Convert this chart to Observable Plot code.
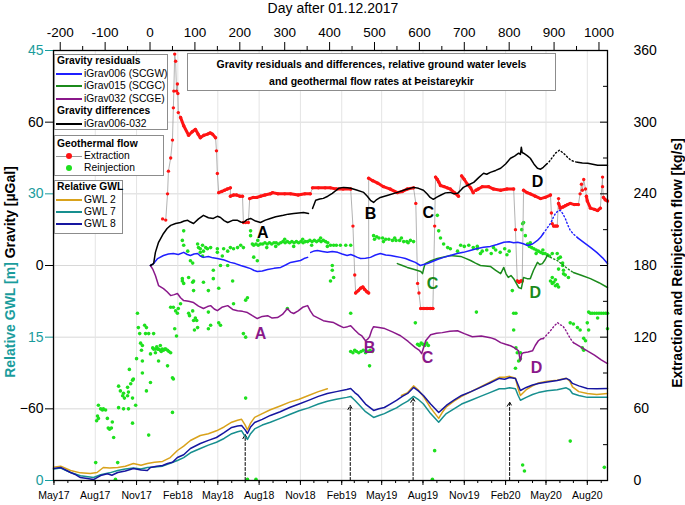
<!DOCTYPE html>
<html><head><meta charset="utf-8">
<script src="https://cdn.jsdelivr.net/npm/d3@7"></script>
<script src="https://cdn.jsdelivr.net/npm/@observablehq/plot@0.6"></script>
<style>
body{margin:0;background:#fff;font-family:"Liberation Sans",Arial,sans-serif;}
#wrap{position:relative;width:685px;height:505px;overflow:hidden;background:#fff;}
#wrap svg{position:absolute;left:0;top:0;}
</style></head>
<body><div id="wrap"></div>
<script>
// ---------- axes / ticks ----------
const DAY0 = Date.UTC(2017, 11, 1);
const xDomain = [-215, 1019];
const gravDomain = [-90, 90], gwlDomain = [0, 45], flowDomain = [0, 360];
const dayTicks = d3.range(-200, 1001, 100);
const dayMinorTicks = d3.range(-150, 1001, 100);
const gravTicks = [-60, 0, 60];
const gwlTicks = [0, 15, 30, 45];
const flowTicks = d3.range(0, 361, 60);
const flowMinorTicks = d3.range(30, 361, 60);
const toDay = t => Math.round((+t - DAY0) / 864e5);
const monthTicks = d3.utcMonth.range(new Date(Date.UTC(2017,4,1)), new Date(Date.UTC(2020,8,30))).map(toDay).filter(d => d <= xDomain[1]);
const quarterTicks = monthTicks.filter((d, i) => i % 3 === 0);
const monthFmt = d => d3.utcFormat("%b%y")(new Date(DAY0 + d * 864e5));

// ---------- gravity (µGal) [day, value, segment]; segment 0 = dotted ----------
const diff006_032 = [
[1,0,1],[8,0.8,1],[12,5.5,1],[19,9.7,1],[30,13.4,1],[38,15.5,1],[46,16.8,1],[57,17.6,1],[68,18.0,1],[76,18.6,1],[84,18.9,1],[90,18.2,1],[97,17.6,1],[108,19.5,1],[119,21.0,1],[130,20.0,1],[141,19.7,1],[150,20.6,1],[157,20.1,1],[165,18.8,1],[173,18.0,1],[184,18.9,1],[195,18.9,1],[202,18.2,1],[208,18.0,1],[216,19.2,1],[224,19.7,1],[235,18.6,1],[246,18.0,1],[257,19.0,1],[268,19.7,1],[280,20.4,1],[297,21.0,1],[308,21.5,1],[320,21.8,1],[331,22.0,1],[342,22.2,1],[353,21.8,1],
[362,23.9,2],[369,27.3,2],[378,27.8,2],[386,28.1,2],[396,29.0,2],[406,30.2,2],[413,31.2,2],[420,32.3,2],[431,32.7,2],[440,32.5,2],[447,32.3,2],[460,31.6,2],[476,30.6,2],[484,29.0,2],[491,27.3,2],[498,26.4,2],[505,27.6,2],[513,28.5,2],[530,29.4,2],[551,30.6,2],[570,31.8,2],[587,32.7,2],[598,32.3,2],[609,31.5,2],[617,30.0,2],[624,28.5,2],[631,27.7,2],[639,28.6,2],[647,29.4,2],[658,30.4,2],[669,30.6,2],[677,30.0,2],[685,30.2,2],[692,31.5,2],[698,32.7,2],[710,33.8,2],[721,34.8,2],[732,36.8,2],[743,38.6,2],[750,38.2,2],[758,39.0,2],[770,39.8,2],[781,40.7,2],[792,42.5,2],[803,44.9,2],[812,45.8,2],[821,47.0,2],[825,46.5,2],[827,49.5,2],[829,47.3,2],[832,47.0,2],[840,46.0,2],[847,44.9,2],[855,42.5,2],[863,40.7,2],[870,40.3,2],[876,41.1,2],[883,42.4,2],
[883,42.4,0],[888,43.2,0],[896,45.2,0],[903,47.0,0],[912,48.3,0],[921,47.0,0],[929,45.5,0],[937,44.1,0],[945,43.5,0],[952,43.2,0],
[952,43.2,3],[963,42.9,3],[975,42.8,3],[986,42.4,3],[997,42.0,3],[1008,42.0,3],[1019,42.0,3]];

const iGrav006 = [
[1,0,1],[8,0.8,1],[17,2.9,1],[30,4.2,1],[41,4.8,1],[52,5.0,1],[63,4.6,1],[75,5.5,1],[83,4.6,1],[90,4.2,1],[98,4.8,1],[106,5.0,1],[112,4.0,1],[119,3.4,1],[130,3.8,1],[140,3.2,1],[150,2.9,1],[165,2.3,1],[179,1.3,1],[190,0.8,1],[202,0,1],[213,-0.6,1],[224,-1.3,1],[232,-2.1,1],[239,-2.5,1],[250,-2.3,1],[262,-1.7,1],[276,-1.2,1],[291,-0.8,1],[302,0.2,1],[313,1.3,1],[324,1.7,1],[335,2.1,1],[343,2.9,1],[351,3.4,1],
[358,5.5,2],[366,6.1,2],[373,6.3,2],[384,5.9,2],[395,5.5,2],[406,5.9,2],[418,5.5,2],[428,4.8,2],[439,4.2,2],[447,4.6,2],[453,4.2,2],[462,3.4,2],[469,2.9,2],[480,3.0,2],[491,3.4,2],[502,4.4,2],[513,5.0,2],[525,4.4,2],[536,4.2,2],[547,3.8,2],[558,3.4,2],[569,2.9,2],[580,2.1,2],[591,1.3,2],[602,0,2],[610,0.4,2],[618,0.8,2],[629,1.7,2],[640,2.5,2],[654,3.4,2],[669,4.2,2],[684,5.0,2],[698,5.5,2],[713,6.3,2],[729,7.1,2],[743,7.6,2],[758,8.0,2],[773,8.8,2],[788,9.7,2],[800,9.9,2],[810,9.5,2],[819,9.7,2],[830,9.2,2],[841,8.4,2],[852,9.0,2],[863,10.5,2],[870,11.8,2],[876,13.4,2],
[876,13.4,0],[884,15.5,0],[892,17.6,0],[898,20.0,0],[903,21.8,0],[909,22.9,0],[914,23.1,0],[919,21.8,0],[925,19.7,0],[930,17.2,0],[936,14.7,0],[944,13.0,0],[952,11.7,0],
[952,11.7,3],[966,9.7,3],[981,7.6,3],[995,5.5,3],[1008,3.2,3],[1019,0.8,3]];

const iGrav015 = [
[551,0.8,1],[562,0,1],[573,-0.8,1],[585,-1.5,1],[596,-2.1,1],[603,-2.5,1],[607,-3.4,1],[610,-1.0,1],[613,0.8,1],[626,2.0,1],[640,2.9,1],[655,3.6,1],[669,4.2,1],[680,4.0,1],[692,3.8,1],[703,3.0,1],[714,2.1,1],[725,1.0,1],[736,0,1],[747,-0.2,1],[758,-0.4,1],[770,-2.0,1],[781,-3.4,1],[788,-0.8,1],[793,-3.5,1],[798,-5.0,1],[804,-4.2,1],[810,-5.5,1],[816,-7.5,1],[821,-9.2,1],[827,-9.7,1],[832,-5.0,1],[840,-5.5,1],[847,-5.5,1],[854,-2.1,1],[863,1.3,1],[868,0.4,1],[874,0.8,1],[880,2.4,1],[885,4.2,1],
[885,4.2,0],[896,3.0,0],[907,2.1,0],[921,0,0],[936,-2.1,0],[943,-2.9,0],
[943,-2.9,3],[962,-4.2,3],[981,-5.5,3],[1000,-7.2,3],[1019,-9.2,3]];

const iGrav032 = [
[1,0,1],[6,-1.5,1],[12,-4.2,1],[19,-8.4,1],[30,-9.7,1],[38,-11.0,1],[46,-12.6,1],[54,-12.2,1],[61,-11.7,1],[68,-13.5,1],[75,-14.7,1],[86,-15.0,1],[97,-15.5,1],[108,-17.0,1],[119,-18.0,1],[128,-17.2,1],[135,-16.8,1],[143,-18.2,1],[150,-18.9,1],[160,-17.5,1],[173,-16.8,1],[184,-18.4,1],[195,-18.9,1],[206,-19.2,1],[217,-19.7,1],[228,-21.0,1],[239,-22.2,1],[250,-21.3,1],[262,-21.0,1],[272,-22.0,1],[284,-21.8,1],[295,-20.5,1],[306,-18.0,1],[313,-19.5,1],[320,-20.1,1],[330,-19.0,1],[340,-17.5,1],[351,-16.8,1],[357,-19.0,1],[364,-21.0,1],[375,-22.0,1],[386,-23.1,1],[398,-23.5,1],[409,-23.9,1],[420,-25.0,1],[431,-26.0,1],[440,-25.6,1],[447,-25.2,1],[456,-27.0,1],[464,-28.5,1],[472,-29.5,1],[480,-31.5,1],[485,-30.8,1],[489,-29.8,1],[494,-27.0,1],[498,-25.6,1],[510,-26.0,1],[523,-26.4,1],[540,-27.8,1],[558,-29.4,1],[575,-31.8,1],[591,-34.4,1],[600,-35.5,1],[605,-36.9,1],[610,-34.0,1],[614,-31.5,1],[625,-29.0,1],[638,-28.4,1],[651,-28.1,1],[668,-27.5,1],[685,-27.3,1],[700,-28.5,1],[718,-29.8,1],[738,-29.5,1],[758,-30.2,1],[770,-31.0,1],[781,-32.3,1],[792,-33.0,1],[803,-33.6,1],[812,-34.5,1],[821,-35.7,1],[823,-38.0,1],[825,-39.9,1],[828,-37.0,1],[832,-36.5,1],[842,-36.2,1],[852,-35.7,1],[858,-33.5,1],[865,-31.5,1],[870,-30.8,1],[876,-30.6,1],
[876,-30.6,0],[884,-29.0,0],[892,-27.3,0],[900,-25.4,0],[908,-23.9,0],[913,-24.8,0],[919,-25.2,0],[925,-26.8,0],[930,-28.5,0],[936,-30.5,0],[943,-32.3,0],
[943,-32.3,3],[958,-34.0,3],[974,-35.7,3],[990,-37.5,3],[1005,-39.5,3],[1019,-41.1,3]];

// ---------- relative ground water levels (m) [day, value, segment] ----------
const gwl8 = [
[-215,1.26,1],[-199,1.36,1],[-188,1.1,1],[-177,0.84,1],[-165,0.6,1],[-155,0.31,1],[-140,0.2,1],[-126,0.1,1],[-110,0.52,1],[-95,0.7,1],[-85,0.55,1],[-72,0.84,1],[-55,1.0,1],[-37,1.26,1],[-20,1.1,1],[-6,1.05,1],[1,1.36,1],[15,1.5,1],[28,1.57,1],[39,1.78,1],[50,1.9,1],[61,2.41,1],[75,2.7,1],[90,3.35,1],[112,3.87,1],[130,4.2,1],[148,4.5,1],[165,5.0,1],[182,5.55,1],[195,5.7,1],[204,5.76,1],[212,5.3,1],[217,4.92,1],[224,5.6,1],[233,6.07,1],[250,6.4,1],[268,6.81,1],[290,7.2,1],[311,7.64,1],[332,8.0,1],[353,8.38,1],[375,8.8,1],[395,9.11,1],[415,9.3,1],[438,9.53,1],[447,9.63,1],[456,9.2,1],[464,8.9,1],[480,8.0,1],[498,7.33,1],[510,7.5,1],[522,7.64,1],[535,8.0,1],[549,8.38,1],[562,8.8,1],[574,9.11,1],[587,9.74,1],[597,9.4,1],[609,8.9,1],[625,8.0,1],[643,7.12,1],[652,7.5,1],[660,7.85,1],[677,8.4,1],[694,8.9,1],[715,9.3,1],[736,9.74,1],[757,10.2,1],[778,10.68,1],[790,10.6,1],[801,10.78,1],[814,10.68,1],[820,10.0,1],[825,9.42,1],[838,9.74,1],[852,10.0,1],[865,10.16,1],[885,10.3,1],[907,10.47,1],[927,10.68,1],[935,10.5,1],[941,10.16,1],[955,9.9,1],[974,9.63,1],[995,9.6,1],[1019,9.63,1]];
const gwl2 = [
[-215,1.4,1],[-199,1.5,1],[-177,1.05,1],[-155,0.8,1],[-133,0.73,1],[-118,0.84,1],[-104,1.36,1],[-90,1.3,1],[-72,1.36,1],[-55,1.5,1],[-37,1.78,1],[-20,1.6,1],[-6,1.78,1],[10,1.9,1],[28,2.0,1],[45,2.4,1],[61,3.14,1],[75,3.6,1],[90,4.19,1],[112,4.71,1],[130,4.9,1],[148,5.2,1],[165,5.6,1],[182,6.1,1],[195,6.3,1],[204,6.4,1],[212,5.8,1],[217,5.3,1],[224,6.0,1],[233,6.6,1],[250,7.0,1],[268,7.4,1],[290,7.8,1],[311,8.2,1],[332,8.5,1],[353,8.9,1],[375,9.3,1],[395,9.6,1],
[560,8.9,2],[574,9.2,2],[587,9.9,2],[597,9.5,2],[609,8.8,2],[625,7.6,2],[643,6.5,2],[652,7.2,2],[660,7.7,2],[677,8.3,2],[694,8.8,2],[715,9.3,2],[736,9.8,2],[757,10.3,2],[778,10.8,2],[790,10.8,2],[801,10.9,2],[814,10.7,2],[820,9.6,2],[825,8.9,2],[838,9.5,2],[852,9.9,2],[865,10.2,2],[885,10.4,2],[907,10.5,2],[927,10.7,2],[935,10.4,2],[941,9.8,2],[955,9.3,2],[974,9.1,2],[995,9.0,2],[1019,9.1,2]];
const gwl7 = [
[-215,1.2,1],[-199,1.3,1],[-177,0.84,1],[-155,0.5,1],[-126,0.31,1],[-110,0.6,1],[-90,0.8,1],[-72,1.05,1],[-55,1.2,1],[-37,1.3,1],[-20,1.2,1],[-6,1.36,1],[10,1.4,1],[28,1.5,1],[45,1.8,1],[61,2.09,1],[75,2.4,1],[90,2.9,1],[112,3.35,1],[130,3.7,1],[148,4.0,1],[165,4.4,1],[182,4.9,1],[195,5.1,1],[204,5.2,1],[212,4.6,1],[217,4.3,1],[224,4.9,1],[233,5.4,1],[250,5.8,1],[268,6.1,1],[290,6.5,1],[311,6.9,1],[332,7.3,1],[353,7.6,1],[375,8.0,1],[395,8.3,1],[415,8.5,1],[438,8.7,1],[447,8.8,1],[456,8.4,1],[464,8.0,1],[480,7.2,1],[498,6.6,1],[510,6.8,1],[522,7.0,1],[535,7.3,1],[549,7.6,1],[562,8.0,1],[574,8.3,1],[587,8.8,1],[597,8.5,1],[609,8.0,1],[625,7.0,1],[643,6.1,1],[652,6.6,1],[660,7.0,1],[677,7.5,1],[694,8.0,1],[715,8.4,1],[736,8.8,1],[757,9.2,1],[778,9.6,1],[790,9.6,1],[801,9.7,1],[814,9.6,1],[820,8.9,1],[825,8.4,1],[838,8.7,1],[852,9.0,1],[865,9.2,1],[885,9.4,1],[907,9.5,1],[927,9.7,1],[935,9.5,1],[941,9.1,1],[955,8.9,1],[974,8.7,1],[995,8.7,1],[1019,8.7,1]];
const gwlArrows = [{day:212, tip:4.8},{day:446, tip:7.85},{day:586, tip:8.6},{day:801, tip:8.2}];

// ---------- geothermal flow (kg/s) ----------
// extraction [day, flow, run]; run 0 = isolated point
const extraction = [
[28,219,0],[35,218,0],[39,240,0],[41,259,0],[46,270,0],[50,285,0],[52,312,0],[53,326,0],[55,357,0],[57,351,0],[59,326,0],[61,332,0],[62,324,0],[63,308,0],
[68,304,1],[75,297,1],[86,289,1],[94,292,1],[101,294,1],[107,290,1],[112,287,1],[120,289,1],[128,290,1],[134,291,1],[139,290,1],[146,287,1],
[148,276,0],[150,257,0],
[153,241,2],[160,242,2],[166,243,2],[172,244,2],[179,245,2],
[179,238,3],[186,239,3],[193,239,3],[200,238,3],[206,238,3],
[208,216,0],[213,216,0],[219,216,0],
[222,236,4],[230,237,4],[238,237,4],[246,238,4],[256,239,4],[268,240,4],[273,241,4],[285,240,4],[300,240,4],[313,240,4],[330,239,4],[345,240,4],[357,240,4],
[362,245,5],[375,245,5],[390,245,5],[402,245,5],[415,244,5],[430,244,5],[447,244,5],
[452,213,0],[456,172,0],
[458,157,6],[464,159,6],[469,161,6],[474,162,6],[478,160,6],[483,158,6],[487,157,6],
[487,253,7],[496,251,7],[507,249,7],[520,246,7],[535,244,7],[551,241,7],[562,242,7],[573,244,7],[587,245,7],
[592,232,0],[596,165,0],[599,157,0],
[603,144,8],[610,144,8],[617,144,8],[624,144,8],[630,144,8],
[634,213,0],
[636,254,9],[640,252,9],[643,250,9],[647,247,9],[655,246,9],[662,245,9],[669,244,9],[678,241,9],[687,238,9],
[694,255,10],[700,252,10],[707,248,10],[714,245,10],[720,241,10],
[726,243,11],[731,244,11],[740,246,11],[754,246,11],[765,244,11],[781,243,11],[795,244,11],[810,244,11],
[814,210,0],
[818,167,12],[822,166,12],[826,167,12],[829,167,12],
[832,243,13],[840,241,13],[847,240,13],[858,238,13],[870,236,13],[880,237,13],[892,239,13],
[894,224,0],[896,215,0],
[899,213,14],[903,213,14],[907,213,14],
[910,236,0],
[910,232,15],[914,228,15],[920,229,15],[925,230,15],[930,231,15],[936,232,15],[945,231,15],[954,231,15],
[958,240,0],[961,248,0],[963,243,0],[966,252,0],[970,244,0],
[972,238,16],[974,234,16],[981,228,16],[990,227,16],[997,226,16],[1003,228,16],
[1008,254,0],[1008,246,0],
[1010,237,17],[1014,235,17],[1019,234,17]];

// reinjection [day, flow]
const reinjection = [
[-121,15],[-72,15],[-77,1],
[-115,63],[-110,60],[-106,59],[-104,60],[-99,59],[-117,54],[-115,52],[-119,50],[-95,52],[-93,44],[-90,43],[-86,44],[-84,49],[-81,36],[-39,48],
[-70,79],[-66,75],[-61,71],[-59,73],[-57,69],[-50,71],[-48,74],[-50,78],[-43,81],[-39,84],[-37,85],[-46,93],[-39,69],[-32,63],[-59,60],[-48,60],[-70,61],
[-28,140],[-26,128],[-23,123],[-12,130],[-8,128],[-10,123],[-3,123],[-21,115],[-17,113],[-19,109],[-30,102],[-17,100],[-17,90],[1,82],[-8,75],[-3,38],
[6,111],[8,110],[12,110],[17,110],[19,110],[23,109],[27,110],[30,109],[33,110],[35,110],[39,109],[42,108],[46,107],[12,107],[1,106],[19,100],[39,96],[15,112],[25,108],
[50,86],[52,85],[50,57],
[52,145],[57,142],[61,140],[63,144],[55,127],[59,121],[72,167],[68,148],[86,140],[88,138],[95,166],[101,136],[104,134],[99,126],[97,159],
[75,209],[72,201],[75,197],[84,192],[106,198],[108,195],[112,194],[117,197],[119,192],[124,195],[112,191],[117,188],[128,194],[135,195],[150,194],[150,191],[161,188],[164,194],[173,192],[179,195],[186,194],[195,195],[202,197],[208,195],[224,209],[224,205],[228,198],
[231,197],[236,198],[241,197],[246,198],[251,198],[256,199],[261,198],[266,199],[271,198],[276,199],[281,199],[286,198],[291,199],[296,200],[301,199],[306,200],[311,199],[316,200],[321,199],[326,200],[331,199],[336,200],[341,199],[346,200],[351,200],[356,201],[361,200],[366,201],[371,200],[376,201],[381,200],[386,201],[391,200],[396,199],
[240,201],[260,195],[280,196],[300,202],[320,196],[340,202],[360,197],[380,203],[395,196],
[402,197],[409,197],[415,197],[424,197],[436,197],[447,197],
[406,180],[406,176],[409,170],[402,167],
[90,184],[95,182],[141,176],[157,180],[173,180],[231,187],[239,184],
[141,169],[97,167],[86,170],[72,169],[75,165],[119,166],[130,159],[153,161],[184,167],[217,153],[213,151],
[46,145],[95,142],[130,141],[135,130],[153,132],[157,130],[130,127],[106,128],[97,134],[208,123],[213,120],[186,148],[306,144],
[8,123],[23,113],
[498,205],[505,204],[510,203],[518,203],[525,202],[532,202],[540,201],[548,201],[556,201],[565,200],[572,200],[580,201],[587,200],[500,202],[520,200],[545,203],[560,203],[575,199],
[640,222],[643,209],[647,203],[654,198],[663,195],[669,194],[685,192],
[692,197],[700,196],[710,197],[720,195],[729,196],
[729,194],[740,192],[750,193],[760,190],[770,193],[780,191],[790,194],[800,192],[736,190],[765,195],[795,189],
[830,215],[828,210],[836,205],[832,216],
[841,198],[845,196],[850,195],[855,194],[860,193],[865,192],[870,191],[875,190],[880,190],[885,189],[890,188],[847,199],[860,190],[875,193],
[907,190],[914,187],[919,182],[910,177],[921,173],
[892,167],[896,165],[899,166],[903,163],[907,164],[910,162],[896,170],[903,168],
[896,190],[910,186],[919,180],[925,172],[932,170],[921,176],
[807,159],[810,140],[810,126],[818,107],[821,100],[814,94],[825,102],
[977,141],[981,140],[985,140],[990,140],[995,140],[1000,140],[1005,140],[1010,140],[1015,140],[1019,140],
[936,132],[943,131],[952,128],[958,126],[966,119],[970,117],[963,111],[966,109],[974,132],[997,136],[1019,127],[977,126],
[447,108],[452,107],[456,109],[460,108],[465,107],[470,108],[475,109],[480,107],[485,108],[490,109],[495,108],[489,96],[447,140],
[596,114],[600,113],[604,115],[608,114],[612,113],[616,115],[620,113],
[815,111],[825,107],
[727,141],[591,132],[815,140],
[213,69],[634,25],[936,33],[830,13],[834,8],[1012,11],[629,1],[217,1],[236,1]];

// ---------- annotations ----------
const letters = [
{t:"A",day:251,g:13.8,c:"#000"},{t:"B",day:491,g:21.8,c:"#000"},{t:"C",day:620,g:22.2,c:"#000"},{t:"D",day:863,g:34.8,c:"#000"},
{t:"C",day:629,g:-7.6,c:"#1b8a1b"},{t:"D",day:858,g:-11.3,c:"#1b8a1b"},
{t:"A",day:246,g:-28.5,c:"#8a188a"},{t:"B",day:489,g:-34.4,c:"#8a188a"},{t:"C",day:618,g:-38.6,c:"#8a188a"},{t:"D",day:861,g:-42.8,c:"#8a188a"}];

// ---------- colours ----------
const C = {blue:"#1f1fff", green:"#1b8a1b", purple:"#8a188a", black:"#000",
  red:"#ff1414", lime:"#1ee01e", gwl2:"#d9a21b", gwl7:"#178f8f", gwl8:"#1616a0", teal:"#1a9c9c"};

const W = 685, H = 505;
const base = {width:W, height:H, marginLeft:53, marginRight:78, marginTop:50, marginBottom:25};
const font = "'Liberation Sans', Arial, sans-serif";
const X = d => d[0], Y = d => d[1];

// ---------- layer 1: flow ----------
const flowPlot = Plot.plot({
  ...base,
  style:{background:"transparent", fontFamily:font, color:"#000", overflow:"visible"},
  x:{domain:xDomain, axis:null},
  y:{domain:flowDomain},
  marks:[
    Plot.gridY([60,120,180,240,300], {stroke:"#d8d8d8", strokeOpacity:1}),
    Plot.gridX(quarterTicks, {stroke:"#e4e4e4", strokeOpacity:1}),
    Plot.dot(reinjection, {x:X, y:Y, r:1.8, fill:C.lime, stroke:"none"}),
    Plot.line(extraction, {x:X, y:Y, stroke:"#a0a0a0", strokeWidth:0.8}),
    Plot.line(extraction.filter(d => d[2] > 0), {x:X, y:Y, z:d => d[2], stroke:C.red, strokeWidth:3}),
    Plot.dot(extraction, {x:X, y:Y, r:1.7, fill:C.red, stroke:"none"}),
    Plot.axisY({anchor:"right", ticks:flowTicks, tickSize:0, tickPadding:26, fontSize:14, label:null}),
    Plot.tickY(flowTicks, {y:d => d, insetLeft:547, stroke:"#000"}),
    Plot.tickY(flowMinorTicks, {y:d => d, insetLeft:550, stroke:"#000"})
  ]
});

// ---------- layer 2: ground water ----------
const gwlPlot = Plot.plot({
  ...base,
  style:{background:"transparent", fontFamily:font, color:C.teal, overflow:"visible"},
  x:{domain:xDomain, axis:null},
  y:{domain:gwlDomain},
  marks:[
    Plot.arrow(gwlArrows, {x1:"day", x2:"day", y1:() => 0, y2:"tip", stroke:"#000", strokeWidth:1, strokeDasharray:"3,2", headLength:7}),
    Plot.line(gwl7, {x:X, y:Y, z:d => d[2], stroke:C.gwl7, strokeWidth:1.5}),
    Plot.line(gwl2, {x:X, y:Y, z:d => d[2], stroke:C.gwl2, strokeWidth:1.5}),
    Plot.line(gwl8, {x:X, y:Y, z:d => d[2], stroke:C.gwl8, strokeWidth:1.5}),
    Plot.axisY({anchor:"left", ticks:gwlTicks, tickSize:8, tickPadding:2, fontSize:14, label:null})
  ]
});

// ---------- layer 3: gravity ----------
const solid = a => a.filter(d => d[2] !== 0), dotted = a => a.filter(d => d[2] === 0);
const gravLines = [[iGrav032, C.purple], [iGrav015, C.green], [iGrav006, C.blue], [diff006_032, C.black]];
const gravPlot = Plot.plot({
  ...base,
  style:{background:"transparent", fontFamily:font, color:"#000", overflow:"visible"},
  x:{domain:xDomain},
  y:{domain:gravDomain},
  marks:[
    ...gravLines.flatMap(([a, c]) => [
      Plot.line(solid(a), {x:X, y:Y, z:d => d[2], stroke:c, strokeWidth:1.5}),
      Plot.line(dotted(a), {x:X, y:Y, stroke:c, strokeWidth:1.4, strokeDasharray:"1.2,2.4"})
    ]),
    ...["#000", C.green, C.purple].map(c =>
      Plot.text(letters.filter(d => d.c === c), {x:"day", y:"g", text:"t", fill:c, fontSize:16, fontWeight:"bold"})),
    Plot.axisY({anchor:"left", ticks:gravTicks, tickSize:8, tickPadding:2, fontSize:14, label:null}),
    Plot.axisX({anchor:"top", ticks:dayTicks, tickSize:9, tickPadding:5, fontSize:13.5, tickFormat:d => String(d), label:null}),
    Plot.axisX({anchor:"top", ticks:dayMinorTicks, tickSize:5, tickFormat:() => "", label:null}),
    Plot.axisX({anchor:"bottom", ticks:quarterTicks, tickSize:5, tickPadding:6, tickFormat:monthFmt, fontSize:10.5, label:null}),
    Plot.axisX({anchor:"bottom", ticks:monthTicks, tickSize:3, tickFormat:() => "", label:null}),
    Plot.frame({stroke:"#000", strokeWidth:1.3})
  ]
});

const wrap = document.getElementById("wrap");
wrap.append(flowPlot, gwlPlot, gravPlot);

// ---------- texts, titles and legends ----------
function el(css, html) {
  const e = document.createElement("div");
  e.style.cssText = "position:absolute;white-space:nowrap;font-family:" + font + ";" + css;
  if (html != null) e.innerHTML = html;
  wrap.appendChild(e);
  return e;
}
el("left:183px;top:0px;width:300px;text-align:center;font-size:14px;line-height:17px;", "Day after 01.12.2017");
el("left:-120px;top:263px;width:260px;height:18px;line-height:18px;text-align:center;font-size:14px;font-weight:bold;transform:rotate(-90deg);",
   `<span style="color:${C.teal}">Relative GWL [m]</span> <span style="color:#000">Gravity [µGal]</span>`);
el("left:537px;top:254px;width:280px;height:18px;line-height:18px;text-align:center;font-size:14px;font-weight:bold;color:#000;transform:rotate(-90deg);",
   "Extraction and Reinjection flow [kg/s]");

// title box
el("left:187px;top:53px;width:369px;height:38px;box-sizing:border-box;border:1px solid #8c8c8c;background:#fff;");
el("left:187px;top:56px;width:369px;text-align:center;font-size:10.5px;font-weight:bold;line-height:17px;",
   "Gravity residuals and differences, relative ground water levels<br>and geothermal flow rates at Þeistareykir");

const legendBoxes = [
  {left:54, top:54, w:114, h:76, rows:[
    {y:61, kind:"head", text:"Gravity residuals"},
    {y:73.5, kind:"line", color:C.blue, text:"iGrav006 (SCGW)"},
    {y:86, kind:"line", color:C.green, text:"iGrav015 (SCGC)"},
    {y:98.5, kind:"line", color:C.purple, text:"iGrav032 (SCGE)"},
    {y:111, kind:"head", text:"Gravity differences"},
    {y:123.5, kind:"line", color:C.black, text:"iGrav006-032"}]},
  {left:54, top:135, w:110, h:41, rows:[
    {y:143.5, kind:"head", text:"Geothermal flow"},
    {y:156, kind:"linedot", color:C.red, text:"Extraction"},
    {y:168, kind:"dot", color:C.lime, text:"Reinjection"}]},
  {left:54, top:180, w:69, h:54, rows:[
    {y:187, kind:"head", text:"Relative GWL"},
    {y:199.5, kind:"line", color:C.gwl2, text:"GWL 2"},
    {y:211.5, kind:"line", color:C.gwl7, text:"GWL 7"},
    {y:223.5, kind:"line", color:C.gwl8, text:"GWL 8"}]}
];
for (const b of legendBoxes) {
  el(`left:${b.left}px;top:${b.top}px;width:${b.w}px;height:${b.h}px;box-sizing:border-box;border:1px solid #8c8c8c;background:#fff;`);
  for (const r of b.rows) {
    if (r.kind === "head") {
      el(`left:57px;top:${r.y - 7}px;font-size:10.3px;font-weight:bold;line-height:14px;color:#000;`, r.text);
      continue;
    }
    if (r.kind === "line") el(`left:56px;top:${r.y - 1}px;width:26px;height:0;border-top:2px solid ${r.color};`);
    if (r.kind === "linedot") {
      el(`left:56px;top:${r.y - 0.5}px;width:26px;height:0;border-top:1px solid #999;`);
      el(`left:66px;top:${r.y - 3}px;width:6px;height:6px;border-radius:50%;background:${r.color};`);
    }
    if (r.kind === "dot") el(`left:66px;top:${r.y - 3}px;width:6px;height:6px;border-radius:50%;background:${r.color};`);
    el(`left:84px;top:${r.y - 7}px;font-size:10.3px;line-height:14px;color:#000;`, r.text);
  }
}
</script>
</body></html>
